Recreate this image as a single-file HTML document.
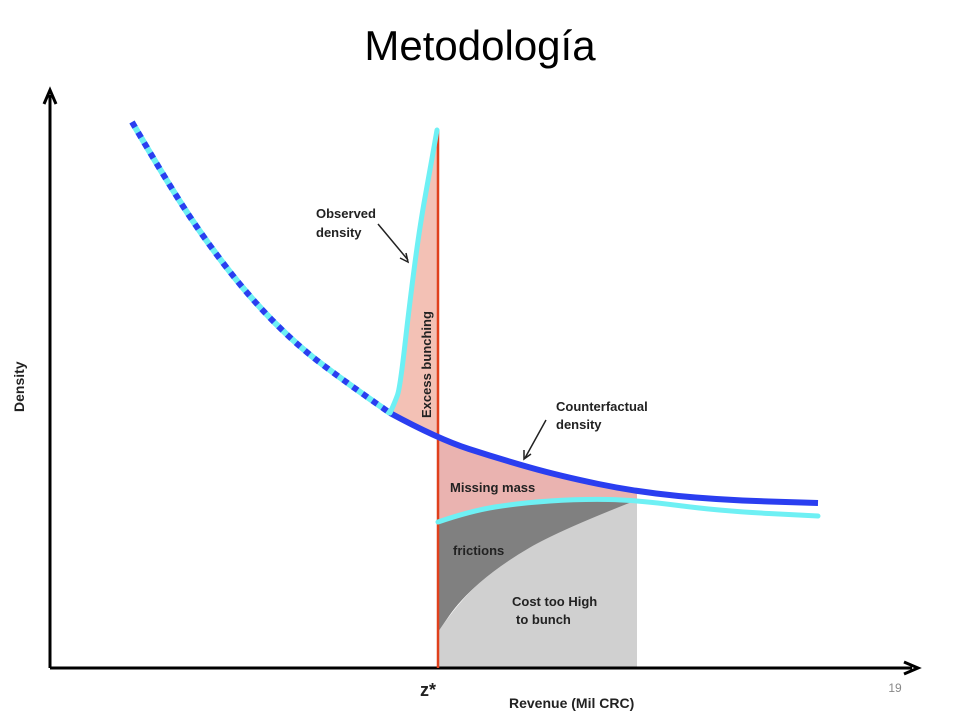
<!DOCTYPE html>
<html><head><meta charset="utf-8"><style>
body{margin:0;background:#fff;width:960px;height:720px;overflow:hidden;font-family:"Liberation Sans",sans-serif}
svg text{font-family:"Liberation Sans",sans-serif}
</style></head><body>
<svg width="960" height="720">
<text x="480" y="60" text-anchor="middle" font-size="42" fill="#000">Metodología</text>
<g id="chart"></g>
<text x="895" y="692" font-size="12" fill="#888" text-anchor="middle">19</text>
</svg>
<script>
const counterfactual=[[132,122],[160,170],[200,233],[250,298],[300,348],[350,385],[390,413],[438,439],[500,459],[560,476],[637,492],[720,500],[818,503]];
const observedLeft=[[132,122],[160,170],[200,233],[250,298],[300,348],[350,385],[390,413]];
const observedSpike=[[390,413],[395,402],[400,388],[410,300],[420,225],[430,170],[437,130]];
const observedRight=[[438,522],[470,511],[520,503],[580,499],[637,500],[720,511],[818,516]];
const costBoundary=[[438,632],[460,600],[500,565],[560,530],[637,500]];
const zStar=438, xMax=637;
const NS="http://www.w3.org/2000/svg";
const g=document.getElementById('chart');
function path(pts){let s="M"+pts[0][0]+","+pts[0][1];for(let i=1;i<pts.length-1;i++){const mx=(pts[i][0]+pts[i+1][0])/2,my=(pts[i][1]+pts[i+1][1])/2;s+=" Q"+pts[i][0]+","+pts[i][1]+" "+mx+","+my;}const l=pts[pts.length-1];s+=" L"+l[0]+","+l[1];return s;}
function add(tag,attrs){const e=document.createElementNS(NS,tag);for(const k in attrs)e.setAttribute(k,attrs[k]);g.appendChild(e);return e;}
const cfRight=counterfactual.filter(p=>p[0]>=zStar&&p[0]<=xMax);
let e=add('path',{d:path(costBoundary)+" L"+xMax+",668 L"+zStar+",668 Z",fill:"#d0d0d0"});

const obsIn=observedRight.filter(p=>p[0]<=xMax);
e=add('path',{d:path(obsIn)+" "+path(costBoundary.slice().reverse()).replace('M','L')+" Z",fill:"#808080"});

e=add('path',{d:path(cfRight)+" "+path(obsIn.slice().reverse()).replace('M','L')+" Z",fill:"#eab3b0"});

e=add('path',{d:path(observedSpike)+" L"+zStar+",439 Z",fill:"#f3c1b5"});

e=add('path',{d:"M50,668 L50,95 M44,104 L50,90 L56,104",stroke:"#000","stroke-width":3,fill:"none"});

e=add('path',{d:"M50,668 L912,668 M904,662 L918,668 L904,674",stroke:"#000","stroke-width":3,fill:"none"});

e=add('line',{x1:zStar,y1:130,x2:zStar,y2:668,stroke:"#e0401c","stroke-width":2.5});

e=add('path',{d:path(observedLeft),stroke:"#6ef0f4","stroke-width":6,fill:"none"});

e=add('path',{d:path(counterfactual.filter(p=>p[0]>=390)),stroke:"#2a3ef0","stroke-width":6,fill:"none"});

e=add('path',{d:path(observedLeft),stroke:"#2a3ef0","stroke-width":6,fill:"none","stroke-dasharray":"6 6"});

e=add('path',{d:path(observedSpike),stroke:"#6ef0f4","stroke-width":5,fill:"none","stroke-linecap":"round"});

e=add('path',{d:path(observedRight),stroke:"#6ef0f4","stroke-width":5,fill:"none","stroke-linecap":"round"});

e=add('path',{d:"M378,224 L408,260 M400,258 L408,262 L406,253",stroke:"#222","stroke-width":1.5,fill:"none"});

e=add('path',{d:"M546,420 L525,458 M524,450 L524,459 L531,454",stroke:"#222","stroke-width":1.5,fill:"none"});

function txt(x,y,s,name,extra){const t=add('text',Object.assign({x:x,y:y,"font-size":13,"font-weight":"bold",fill:"#222"},extra||{}));t.textContent=s;
return t;}
txt(316,218,"Observed","observed-label");txt(316,237,"density","observed-label-2");
txt(556,411,"Counterfactual","counterfactual-label");txt(556,429,"density","counterfactual-label-2");
txt(450,492,"Missing mass","missing-mass-label");
txt(453,555,"frictions","frictions-label");
txt(512,606,"Cost too High","cost-label");txt(516,624,"to bunch","cost-label-2");
txt(0,0,"Excess bunching","excess-bunching-label",{transform:"translate(431,418) rotate(-90)"});
txt(0,0,"Density","y-axis-title",{transform:"translate(24,412) rotate(-90)","font-size":14});
txt(509,708,"Revenue (Mil CRC)","x-axis-title",{"font-size":14});
txt(420,696,"z*","z-star-label",{"font-size":18});
</script>
</body></html>
